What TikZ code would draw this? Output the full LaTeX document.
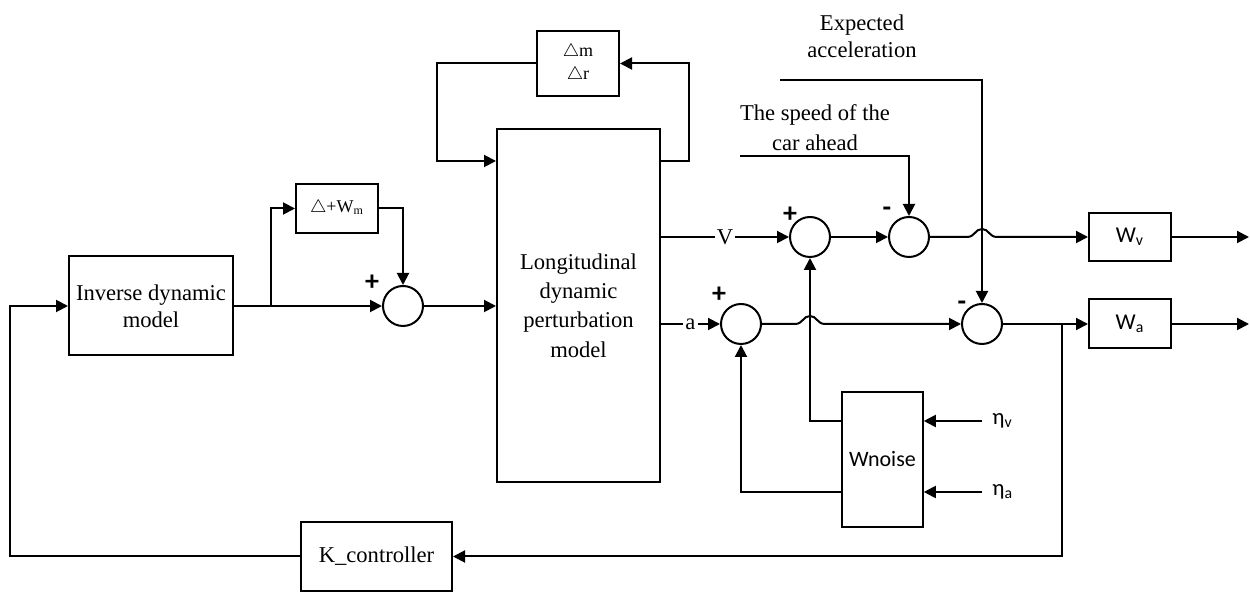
\documentclass[tikz,border=0pt]{standalone}
\usepackage{fontspec}
\setmainfont{Liberation Serif}
\setsansfont{Carlito}
\usetikzlibrary{arrows.meta,calc}

\begin{document}
\begin{tikzpicture}[x=0.5pt,y=0.5pt,yscale=-1,xscale=1,
  blk/.style={draw,line width=1pt,align=center,inner sep=1pt},
  sumc/.style={draw,circle,line width=1pt,minimum size=20pt,inner sep=0pt},
  sgn/.style={font=\sffamily\bfseries\fontsize{14}{14}\selectfont,inner sep=0pt},
  sig/.style={-{Triangle[length=6pt,width=6pt]},line width=1pt},
  ln/.style={line width=1pt},
  font=\fontsize{11.3}{13.5}\selectfont]
\useasboundingbox (0,0) rectangle (1250,592);

%Shape: Rectangle
\node[blk,minimum width=82pt,minimum height=49.5pt] (inv) at (151,306) {Inverse dynamic\\model};
%Shape: Rectangle
\node[blk,minimum width=41pt,minimum height=24.5pt,font=\fontsize{9}{11}\selectfont] (dW) at (337,208.5) {$\triangle$+W\textsubscript{m}};
%Shape: Circle
\node[sumc] (s0) at (403,306) {};
%Shape: Rectangle
\node[blk,minimum width=81.5pt,minimum height=176.5pt,font=\fontsize{11.3}{14.6}\selectfont] (lon) at (578.5,305.5) {Longitudinal\\dynamic\\perturbation\\model};
%Shape: Rectangle
\node[blk,minimum width=41pt,minimum height=32.5pt,font=\fontsize{9}{11.5}\selectfont] (dmr) at (578,63.5) {$\triangle$m\\$\triangle$r};
%Shape: Circle
\node[sumc] (s1) at (810,237) {};
\node[sumc] (s2) at (909,237) {};
\node[sumc] (s3) at (741,324) {};
\node[sumc] (s4) at (982,324) {};
%Shape: Rectangle
\node[blk,minimum width=41pt,minimum height=24pt,font=\sffamily\fontsize{11.3}{13}\selectfont] (Wv) at (1130,237) {W\textsubscript{v}};
\node[blk,minimum width=41pt,minimum height=24.5pt,font=\sffamily\fontsize{11.3}{13}\selectfont] (Wa) at (1130,324) {W\textsubscript{a}};
%Shape: Rectangle
\node[blk,minimum width=40.5pt,minimum height=67.5pt,line width=0.8pt,font=\sffamily\fontsize{11}{13}\selectfont] (wn) at (882.5,459.5) {Wnoise};
%Shape: Rectangle
\node[blk,minimum width=75.5pt,minimum height=34.5pt] (K) at (376.5,556.5) {K\_controller};

% Text Node
\node[align=center] (expT) at (862,36) {Expected\\acceleration};
% Text Node
\node[align=center,font=\fontsize{11.3}{15}\selectfont] (carT) at (815,128) {The speed of the\\car ahead};
% Text Node
\node[anchor=west,inner xsep=5pt,inner ysep=0pt,font=\sffamily\fontsize{11.3}{13}\selectfont] (etv) at (982,421) {η\textsubscript{v}};
\node[anchor=west,inner xsep=5pt,inner ysep=0pt,font=\sffamily\fontsize{11.3}{13}\selectfont] (eta) at (982,492) {η\textsubscript{a}};
% Signs
\node[sgn] (p0) at (372,283) {+};
\node[sgn] (p1) at (790,215) {+};
\node[sgn] (m2) at (887,212) {-};
\node[sgn] (p3) at (719,295) {+};
\node[sgn] (m4) at (962,306) {-};

% Corner points
\coordinate (br) at (271,306);
\coordinate (fbL) at (437,161);
\coordinate (fbR) at (689,161);
\coordinate (car) at (740,156);
\coordinate (exp) at (780,80);
\coordinate (kb) at (1062,324);
\coordinate (lp) at (10,306);
\coordinate (hopV) at (982,237);
\coordinate (hopA) at (810,324);
\coordinate (outV) at (1249,237);
\coordinate (outA) at (1249,324);

%Straight Lines
\draw[ln] (inv.east) -- (br);
\draw[sig] (br) -- (s0.west);
\draw[sig] (br) |- (dW.west);
\draw[sig] (dW.east) -| (s0.north);
\draw[sig] (s0.east) -- (s0.east -| lon.west);
\draw[sig] (fbR -| lon.east) -- (fbR) |- (dmr.east);
\draw[sig] (dmr.west) -| (fbL) -- (fbL -| lon.west);
\draw[sig] (s1 -| lon.east) -- node[fill=white,inner sep=1pt] {V} (s1.west);
\draw[sig] (s3 -| lon.east) -- node[fill=white,inner sep=1pt] {a} (s3.west);
\draw[sig] (s1.east) -- (s2.west);
\draw[sig] (car) -| (s2.north);
\draw[sig] (exp) -| (s4.north);
\draw[sig] (s2.east) -- ($(hopV)+(-15,0)$) .. controls +(8,0) and +(-7,0) .. ($(hopV)+(0,-8)$) .. controls +(7,0) and +(-8,0) .. ($(hopV)+(15,0)$) -- (Wv.west);
\draw[sig] (s3.east) -- ($(hopA)+(-15,0)$) .. controls +(8,0) and +(-7,0) .. ($(hopA)+(0,-8)$) .. controls +(7,0) and +(-8,0) .. ($(hopA)+(15,0)$) -- (s4.west);
\draw[sig] (s4.east) -- (Wa.west);
\draw[sig] (kb) |- (K.east);
\draw[sig] (K.west) -| (lp) -- (inv.west);
\draw[sig] (Wv.east) -- (outV);
\draw[sig] (Wa.east) -- (outA);
\draw[sig] (etv.west) -- (etv.west -| wn.east);
\draw[sig] (eta.west) -- (eta.west -| wn.east);
\draw[sig] (wn.west |- etv) -| (s1.south);
\draw[sig] (wn.west |- eta) -| (s3.south);

\end{tikzpicture}
\end{document}
